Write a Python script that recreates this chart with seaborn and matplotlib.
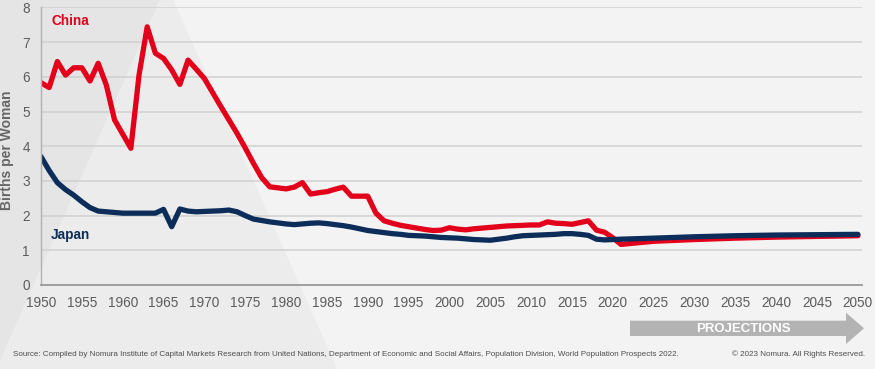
import matplotlib
matplotlib.use("Agg")
import matplotlib.pyplot as plt
from matplotlib.patches import Polygon
import seaborn as sns
import pandas as pd

# ---------------- data ----------------
china_years = list(range(1950, 2022)) + [2025, 2030, 2035, 2040, 2045, 2050]
china_tfr = [
    5.83, 5.69, 6.44, 6.05, 6.26, 6.26, 5.88, 6.39, 5.76, 4.76,   # 1950-59
    4.35, 3.94, 6.05, 7.44, 6.68, 6.53, 6.20, 5.78, 6.48, 6.22,   # 1960-69
    5.95, 5.55, 5.15, 4.76, 4.37, 3.95, 3.51, 3.10, 2.83, 2.80,   # 1970-79
    2.77, 2.82, 2.95, 2.62, 2.66, 2.69, 2.76, 2.82, 2.56, 2.56,   # 1980-89
    2.56, 2.07, 1.85, 1.78, 1.72, 1.68, 1.64, 1.60, 1.57, 1.58,   # 1990-99
    1.65, 1.61, 1.59, 1.62, 1.64, 1.66, 1.68, 1.70, 1.71, 1.72,   # 2000-09
    1.73, 1.73, 1.82, 1.78, 1.77, 1.75, 1.80, 1.85, 1.58, 1.52,   # 2010-19
    1.36, 1.17,                                                   # 2020-21
    1.26, 1.31, 1.35, 1.38, 1.40, 1.42,                           # projections
]
japan_years = list(range(1950, 2022)) + [2025, 2030, 2035, 2040, 2045, 2050]
japan_tfr = [
    3.70, 3.30, 2.95, 2.75, 2.59, 2.40, 2.23, 2.13, 2.11, 2.09,   # 1950-59
    2.07, 2.07, 2.07, 2.07, 2.07, 2.18, 1.68, 2.19, 2.13, 2.11,   # 1960-69
    2.12, 2.13, 2.14, 2.16, 2.11, 2.00, 1.90, 1.86, 1.82, 1.79,   # 1970-79
    1.76, 1.74, 1.76, 1.78, 1.79, 1.77, 1.74, 1.71, 1.67, 1.62,   # 1980-89
    1.57, 1.54, 1.51, 1.48, 1.46, 1.43, 1.42, 1.41, 1.39, 1.37,   # 1990-99
    1.36, 1.35, 1.33, 1.31, 1.30, 1.29, 1.32, 1.35, 1.39, 1.42,   # 2000-09
    1.43, 1.44, 1.45, 1.46, 1.48, 1.48, 1.46, 1.43, 1.32, 1.30,   # 2010-19
    1.31, 1.32,                                                   # 2020-21
    1.35, 1.39, 1.42, 1.44, 1.45, 1.46,                           # projections
]
countries = ["China", "Japan"]
x_ticks = list(range(1950, 2051, 5))
y_ticks = list(range(0, 9))

df = pd.concat([
    pd.DataFrame({"Year": china_years, "TFR": china_tfr, "Country": "China"}),
    pd.DataFrame({"Year": japan_years, "TFR": japan_tfr, "Country": "Japan"}),
], ignore_index=True)

# ---------------- style ----------------
sns.set_style("white")
plt.rcParams["font.family"] = ["Liberation Sans", "DejaVu Sans"]

RED = "#e2001a"
NAVY = "#0c2d5a"
W, H = 875, 369

fig = plt.figure(figsize=(W / 100, H / 100), dpi=100)
fig.patch.set_facecolor("#f3f3f3")

# background decoration (pixel coordinates)
bg = fig.add_axes([0, 0, 1, 1], zorder=-10)
bg.set_xlim(0, W)
bg.set_ylim(H, 0)
bg.axis("off")
bg.add_patch(Polygon([(0, 0), (160, 0), (0, 361)], closed=True,
                     facecolor="#e5e5e5", edgecolor="none"))
bg.add_patch(Polygon([(166.6, -15), (337.2, 369), (-3.5, 369)], closed=True,
                     facecolor="#ececec", edgecolor="none"))
# projections arrow
bg.add_patch(Polygon([(630, 320.7), (846, 320.7), (846, 312.7), (864, 328.3),
                      (846, 344), (846, 336), (630, 336)], closed=True,
                     facecolor="#b3b3b3", edgecolor="none"))
bg.text(743, 329, "PROJECTIONS", color="white", fontsize=9.5,
        fontweight="bold", ha="center", va="center")
bg.text(13, 354, "Source: Compiled by Nomura Institute of Capital Markets Research from "
        "United Nations, Department of Economic and Social Affairs, Population Division, "
        "World Population Prospects 2022.",
        fontsize=5.75, color="#4d4d4d", ha="left", va="center")
bg.text(865, 354, "\u00a9 2023 Nomura. All Rights Reserved.",
        fontsize=5.75, color="#4d4d4d", ha="right", va="center")

# main axes
ax = fig.add_axes([41 / W, (H - 285) / H, (862 - 41) / W, (285 - 7.4) / H])
ax.patch.set_alpha(0)

sns.lineplot(data=df, x="Year", y="TFR", hue="Country", hue_order=countries,
             palette={"China": RED, "Japan": NAVY}, linewidth=3.8,
             legend=False, errorbar=None, ax=ax)

ax.set_xlim(1950, 2050.5)
ax.set_ylim(0, 8)
ax.set_xticks(x_ticks)
ax.set_yticks(y_ticks)
ax.set_xlabel("")
ax.set_ylabel("")
ax.yaxis.grid(True, color="#d0d0d0", linewidth=1.1)
ax.xaxis.grid(False)
ax.set_axisbelow(True)
for s in ["top", "right"]:
    ax.spines[s].set_visible(False)
ax.spines["left"].set_color("#b0b0b0")
ax.spines["left"].set_linewidth(1.0)
ax.spines["bottom"].set_color("#9a9a9a")
ax.spines["bottom"].set_linewidth(1.3)
ax.tick_params(axis="both", length=0, labelsize=9.8, labelcolor="#5c5c5c")
ax.tick_params(axis="x", pad=8)
ax.tick_params(axis="y", pad=8)

ax.text(1951.3, 7.6, "China", color=RED, fontsize=9.8, fontweight="bold",
        ha="left", va="center")
ax.text(1951.2, 1.44, "Japan", color=NAVY, fontsize=9.8, fontweight="bold",
        ha="left", va="center")

fig.text(7.5 / W, 1 - 150 / H, "Births per Woman", rotation=90, ha="center",
         va="center", fontsize=10, color="#666666", fontweight="semibold")

fig.savefig("out.png", dpi=100, facecolor=fig.get_facecolor())
